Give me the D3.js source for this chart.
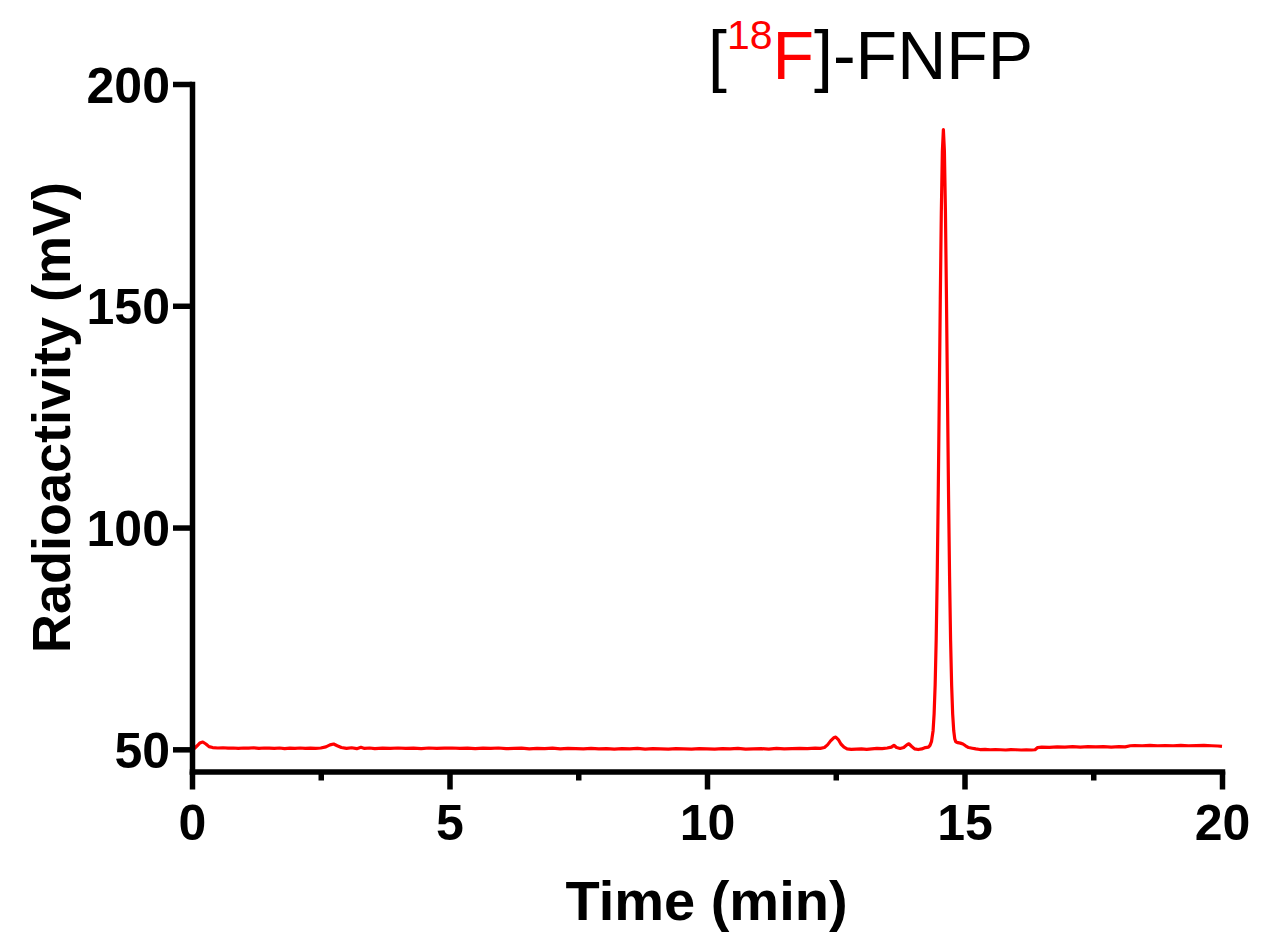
<!DOCTYPE html>
<html>
<head>
<meta charset="utf-8">
<script src="https://cdn.jsdelivr.net/npm/d3@7/dist/d3.min.js"></script>
<style>
  html, body { margin: 0; padding: 0; background: #fff; }
  svg { display: block; }
  text { font-family: "Liberation Sans", Arial, Helvetica, sans-serif; }
</style>
</head>
<body>
<svg id="chart" width="1265" height="936"></svg>
<script>
// ---- data ----
const timeMin = [
  0.00, 0.05, 0.10, 0.15, 0.21, 0.27, 0.33, 0.40, 0.50, 0.60, 0.70, 0.80, 0.90, 1.00,
  1.10, 1.20, 1.30, 1.40, 1.50, 1.60, 1.70, 1.80, 1.90, 2.00, 2.10, 2.20, 2.30, 2.40,
  2.50, 2.60, 2.68, 2.75, 2.82, 2.90, 3.00, 3.10, 3.20, 3.28, 3.35, 3.45, 3.55, 3.70,
  3.85, 4.00, 4.15, 4.30, 4.45, 4.60, 4.75, 4.90, 5.05, 5.20, 5.35, 5.50, 5.65, 5.80,
  5.95, 6.10, 6.25, 6.40, 6.55, 6.70, 6.85, 7.00, 7.15, 7.30, 7.45, 7.60, 7.75, 7.90,
  8.05, 8.20, 8.35, 8.50, 8.65, 8.80, 8.95, 9.10, 9.25, 9.40, 9.55, 9.70, 9.85, 10.00,
  10.15, 10.30, 10.45, 10.60, 10.75, 10.90, 11.05, 11.20, 11.35, 11.50, 11.65, 11.80,
  11.95, 12.10, 12.20, 12.28, 12.34, 12.40, 12.46, 12.50, 12.55, 12.60, 12.66, 12.72,
  12.80, 12.90, 13.00, 13.10, 13.20, 13.30, 13.40, 13.50, 13.58, 13.63, 13.68, 13.75,
  13.82, 13.88, 13.92, 13.97, 14.03, 14.10, 14.17, 14.24, 14.30, 14.33, 14.36, 14.39,
  14.41, 14.43, 14.45, 14.47, 14.49, 14.51, 14.53, 14.55, 14.57, 14.59, 14.61, 14.63,
  14.65, 14.67, 14.69, 14.71, 14.73, 14.75, 14.77, 14.79, 14.81, 14.83, 14.87, 14.92,
  14.97, 15.02, 15.08, 15.15, 15.22, 15.30, 15.40, 15.50, 15.60, 15.70, 15.80, 15.90,
  16.00, 16.10, 16.20, 16.30, 16.37, 16.42, 16.50, 16.65, 16.80, 16.95, 17.10, 17.25,
  17.40, 17.55, 17.70, 17.85, 18.00, 18.12, 18.22, 18.30, 18.45, 18.60, 18.75, 18.90,
  19.05, 19.20, 19.35, 19.50, 19.65, 19.80, 19.92, 20.00
];
const radioactivity = [
  50.05, 50.25, 50.8, 51.4, 51.65, 51.2, 50.6, 50.4, 50.3, 50.35, 50.25, 50.3, 50.2, 50.3,
  50.25, 50.35, 50.2, 50.3, 50.25, 50.2, 50.3, 50.15, 50.25, 50.2, 50.3, 50.2, 50.25, 50.2,
  50.3, 50.55, 51.0, 51.2, 50.8, 50.4, 50.2, 50.35, 50.15, 50.45, 50.2, 50.3, 50.15, 50.25,
  50.2, 50.3, 50.2, 50.25, 50.15, 50.3, 50.2, 50.25, 50.3, 50.2, 50.25, 50.15, 50.25, 50.2,
  50.3, 50.15, 50.2, 50.25, 50.1, 50.2, 50.15, 50.25, 50.1, 50.2, 50.15, 50.1, 50.2, 50.1,
  50.15, 50.05, 50.15, 50.1, 50.2, 50.05, 50.15, 50.1, 50.05, 50.15, 50.1, 50.05, 50.15, 50.1,
  50.05, 50.15, 50.1, 50.2, 50.05, 50.1, 50.15, 50.05, 50.2, 50.1, 50.15, 50.2,
  50.15, 50.25, 50.2, 50.4, 51.0, 51.9, 52.6, 52.75, 52.2, 51.2, 50.5, 50.1,
  50.0, 50.05, 50.1, 50.0, 50.1, 50.2, 50.15, 50.3, 50.5, 50.9, 50.4, 50.2,
  50.4, 51.0, 51.25, 50.7, 50.1, 49.95, 50.1, 50.4, 50.5, 50.9, 51.8, 54.2,
  58.0, 64.5, 74.6, 89.0, 107.5, 129.2, 151.5, 171.2, 184.8, 189.7, 184.8, 171.2,
  151.5, 129.2, 107.5, 89.0, 74.6, 64.5, 58.0, 54.3, 52.4, 51.7, 51.5, 51.4,
  51.2, 50.8, 50.4, 50.25, 50.1, 49.95, 50.0, 49.9, 49.95, 49.9, 49.85, 49.95,
  49.9, 49.85, 49.9, 49.85, 49.9, 50.4, 50.5, 50.45, 50.55, 50.5, 50.6, 50.5,
  50.6, 50.55, 50.6, 50.5, 50.6, 50.55, 50.8, 50.85, 50.8, 50.9, 50.8, 50.85,
  50.8, 50.9, 50.8, 50.85, 50.9, 50.8, 50.75, 50.65
];
const xMajorTicks = [0, 5, 10, 15, 20];
const xMinorTicks = [2.5, 7.5, 12.5, 17.5];
const yTicks = [50, 100, 150, 200];
const xDomain = [0, 20];
const yDomain = [45, 200];

// ---- drawing ----
const svg = d3.select("#chart");
const x = d3.scaleLinear().domain(xDomain).range([192, 1222]);
const y = d3.scaleLinear().domain(yDomain).range([771.5, 84]);

const axisW = 5.5;
const data = timeMin.map((t, i) => [t, radioactivity[i]]);

// trace
svg.append("path")
  .datum(data)
  .attr("fill", "none")
  .attr("stroke", "#ff0000")
  .attr("stroke-width", 3.2)
  .attr("stroke-linejoin", "round")
  .attr("d", d3.line().x(d => x(d[0])).y(d => y(d[1])));

// y axis
const gy = svg.append("g")
  .attr("transform", `translate(${x(0)},0)`)
  .call(d3.axisLeft(y).tickValues(yTicks).tickSize(19).tickSizeOuter(0).tickPadding(3).tickFormat(d3.format("d")));
// x axis major
const gx = svg.append("g")
  .attr("transform", `translate(0,${y(45)})`)
  .call(d3.axisBottom(x).tickValues(xMajorTicks).tickSize(18).tickSizeOuter(0).tickPadding(15).tickFormat(d3.format("d")));
// x axis minor
const gxm = svg.append("g")
  .attr("transform", `translate(0,${y(45)})`)
  .call(d3.axisBottom(x).tickValues(xMinorTicks).tickSize(9).tickSizeOuter(0).tickFormat(""));
gxm.select(".domain").remove();

[gy, gx, gxm].forEach(g => {
  g.selectAll(".domain").attr("stroke", "#000").attr("stroke-width", axisW).attr("stroke-linecap", "square");
  g.selectAll(".tick line").attr("stroke", "#000").attr("stroke-width", axisW);
  g.selectAll(".tick text")
    .attr("fill", "#000")
    .style("font-family", "'Liberation Sans', Arial, sans-serif")
    .style("font-size", "50px")
    .style("font-weight", "bold");
});
gy.selectAll(".tick text").attr("dy", "0.36em");

// axis titles
svg.append("text")
  .attr("x", 706.5).attr("y", 920)
  .attr("text-anchor", "middle")
  .style("font-size", "56px").style("font-weight", "bold")
  .text("Time (min)");

svg.append("text")
  .attr("transform", "translate(70,417.5) rotate(-90)")
  .attr("text-anchor", "middle")
  .style("font-size", "54px").style("font-weight", "bold")
  .text("Radioactivity (mV)");

// title
const title = svg.append("text")
  .attr("x", 708).attr("y", 79)
  .style("font-size", "68px");
title.append("tspan").attr("fill", "#000").text("[");
title.append("tspan").attr("fill", "#ff0000").attr("dy", -30).style("font-size", "41px").text("18");
title.append("tspan").attr("fill", "#ff0000").attr("dy", 30).text("F");
title.append("tspan").attr("fill", "#000").text("]-FNFP");
</script>
</body>
</html>
